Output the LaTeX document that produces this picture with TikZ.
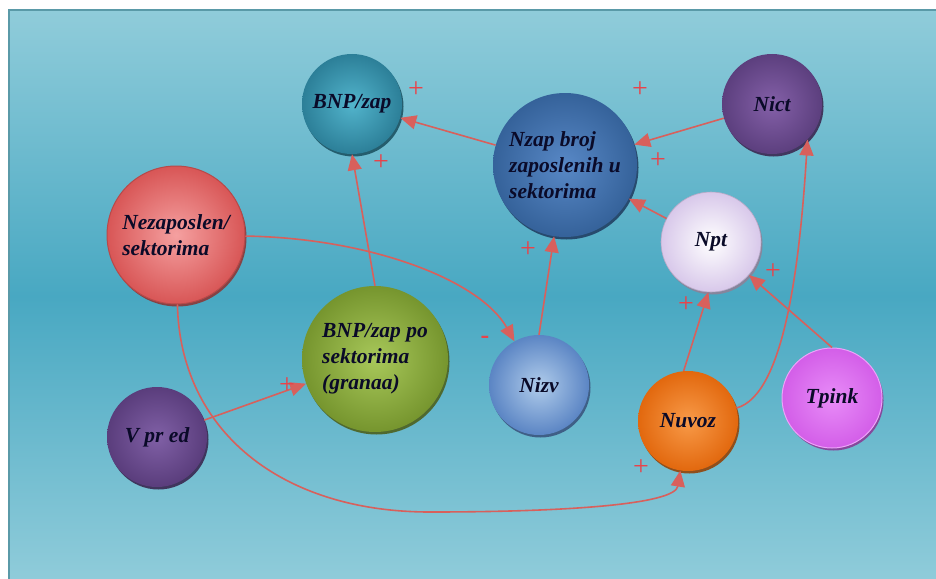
\documentclass[tikz,border=0pt]{standalone}
\usepackage{fontspec}
\setmainfont{Liberation Serif}
\usetikzlibrary{arrows.meta,shadows}

% palette
\definecolor{bgl}{HTML}{90CCDA}
\definecolor{bgd}{HTML}{48A8C2}
\definecolor{framec}{HTML}{5A9AA8}
\definecolor{linkc}{HTML}{D8605C}
\definecolor{signc}{HTML}{E8434A}
\definecolor{txt}{HTML}{0A0A28}
\definecolor{bnpI}{HTML}{52B4CC}\definecolor{bnpO}{HTML}{2C7F98}
\definecolor{nzapI}{HTML}{5888C6}\definecolor{nzapO}{HTML}{35629A}
\definecolor{nictI}{HTML}{8460A8}\definecolor{nictO}{HTML}{5C3F7E}
\definecolor{nezI}{HTML}{F5A0A0}\definecolor{nezO}{HTML}{D85656}
\definecolor{nptI}{HTML}{FFFFFF}\definecolor{nptO}{HTML}{D8C8EA}
\definecolor{grI}{HTML}{A8C85A}\definecolor{grO}{HTML}{76952E}
\definecolor{nizvI}{HTML}{B0CCEB}\definecolor{nizvO}{HTML}{5B85C4}
\definecolor{nuvI}{HTML}{F89A48}\definecolor{nuvO}{HTML}{E2680E}
\definecolor{tpI}{HTML}{E88CF8}\definecolor{tpO}{HTML}{D35EE8}
\definecolor{vpI}{HTML}{8060A6}\definecolor{vpO}{HTML}{5A3D7C}

\tikzset{
  ball/.style n args={3}{circle, minimum size=#1, inner sep=0pt,
    inner color=#2, outer color=#3, text=txt, align=left,
    font=\bfseries\itshape\fontsize{21.5}{26}\selectfont,
    drop shadow={fill=#3!65!black, opacity=0.9, shadow xshift=1.5pt, shadow yshift=-2.5pt}},
  link/.style={draw=linkc, line width=1.6pt, -{Triangle[length=16pt,width=14pt]}},
  sgn/.style={text=signc, inner sep=0pt, font=\fontsize{28}{28}\selectfont},
}

\begin{document}
\begin{tikzpicture}[x=1pt,y=-1pt]
\useasboundingbox (0,0) rectangle (936,578);
\fill[white] (0,0) rectangle (936,578);
% backdrop panel: light at top and bottom, deeper teal in the middle
\shade[top color=bgl, bottom color=bgl, middle color=bgd] (9,10) rectangle (940,582);
\draw[framec, line width=1.5pt] (940,10) -- (9,10) -- (9,582);

% variables
\node[ball={100pt}{bnpI}{bnpO}] (bnp) at (352,104) {BNP/zap};
\node[ball={144pt}{nzapI}{nzapO}] (nzap) at (565,165) {Nzap broj\\zaposlenih u\\sektorima};
\node[ball={100pt}{nictI}{nictO}] (nict) at (772,104) {Nict};
\node[ball={138pt}{nezI}{nezO}, draw=nezO!85!black, line width=1pt] (nez) at (176,235) {Nezaposlen/\\sektorima};
\node[ball={100pt}{nptI}{nptO}, draw=nptO!85!black, line width=0.6pt] (npt) at (711,242) {Npt};
\node[ball={146pt}{grI}{grO}] (gr) at (375,359) {BNP/zap po\\sektorima\\(granaa)};
\node[ball={100pt}{nizvI}{nizvO}] (nizv) at (539,385) {Nizv};
\node[ball={100pt}{nuvI}{nuvO}] (nuv) at (688,421) {Nuvoz};
\node[ball={100pt}{tpI}{tpO}, draw=tpI!80!white, line width=1pt] (tp) at (832,398) {Tpink};
\node[ball={100pt}{vpI}{vpO}] (vp) at (157,437) {V pr ed};

% causal links
\draw[link] (nzap) -- (bnp);
\draw[link] (gr.north) -- (bnp.south);
\draw[link] (nict) -- (nzap);
\draw[link] (npt) -- (nzap);
\draw[link] (nizv.north) -- (nzap);
\draw[link] (vp) -- (gr);
\draw[link] (nuv.95) -- (npt.-93);
\draw[link] (tp.north) -- (npt);
\draw[link] (nez) .. controls (370,238) and (480,280) .. (nizv);
\draw[link] (nez) .. controls (180,430) and (280,512) .. (430,512)
                  .. controls (560,512) and (675,505) .. (nuv);
\draw[link] (nuv) .. controls (785,395) and (800,260) .. (nict.-45);

% polarity marks
\node[sgn] (s1) at (416,90) {+};
\node[sgn] (s2) at (381,163) {+};
\node[sgn] (s3) at (640,90) {+};
\node[sgn] (s4) at (658,161) {+};
\node[sgn] (s5) at (528,250) {+};
\node[sgn, font=\bfseries\fontsize{26}{26}\selectfont] (s6) at (485,340) {-};
\node[sgn] (s7) at (287,386) {+};
\node[sgn] (s8) at (686,305) {+};
\node[sgn] (s9) at (773,272) {+};
\node[sgn] (s10) at (641,468) {+};
\end{tikzpicture}
\end{document}
